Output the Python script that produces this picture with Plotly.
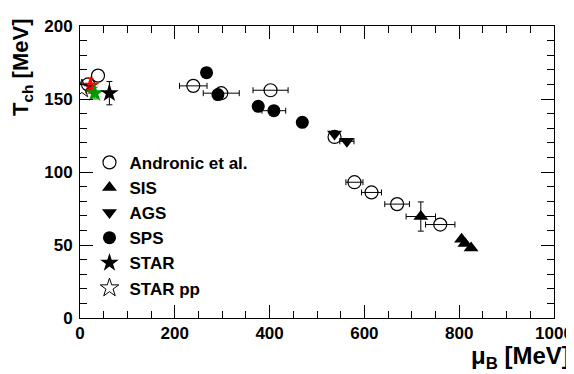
import plotly.graph_objects as go

# ---- data (mu_B [MeV], T_ch [MeV]) ----
andronic_mu = [38, 17, 239, 298, 402, 537, 579, 615, 669, 760]
andronic_T = [166, 160, 159, 154, 156, 124, 93, 86, 78, 64]
andronic_dmu = [None, None, 29, 38, 37, None, 18, 21, 26, 31]

sis_mu = [719, 805, 812, 825]
sis_T = [69.5, 54, 51, 48]
sis_dmu = [31, None, None, None]
sis_dT = [10, None, None, None]

ags_mu = [537, 563]
ags_T = [126, 121]
ags_dmu = [None, 15]

sps_mu = [267, 291, 376, 409, 469]
sps_T = [168, 153, 145, 142, 134]
sps_dmu = [None, None, None, 25, None]

star_mu = [62]
star_T = [154]
star_dT = [8]

starpp_mu = [4]
starpp_T = [157]

red_mu = [22]
red_T = [159]
red_dT = [5]

green_mu = [31]
green_T = [154]
green_dT = [4]

x_ticks = [0, 200, 400, 600, 800, 1000]
y_ticks = [0, 50, 100, 150, 200]

FONT = "Liberation Sans"
BLACK = "#000000"

fig = go.Figure()


def err(arr):
    return dict(type="data", array=arr, symmetric=True, color=BLACK,
                thickness=1, width=3, visible=True)


def add_set(name, grp, xs, ys, marker, dx=None, dy=None):
    n = len(xs)
    dx = dx or [None] * n
    dy = dy or [None] * n
    with_err = [i for i in range(n) if dx[i] is not None or dy[i] is not None]
    no_err = [i for i in range(n) if i not in with_err]
    first = True
    if no_err:
        fig.add_trace(go.Scatter(
            x=[xs[i] for i in no_err], y=[ys[i] for i in no_err], mode="markers",
            name=name, legendgroup=grp, showlegend=first, marker=marker))
        first = False
    if with_err:
        kw = {}
        if any(dx[i] is not None for i in with_err):
            kw["error_x"] = err([dx[i] or 0 for i in with_err])
        if any(dy[i] is not None for i in with_err):
            kw["error_y"] = err([dy[i] or 0 for i in with_err])
        fig.add_trace(go.Scatter(
            x=[xs[i] for i in with_err], y=[ys[i] for i in with_err], mode="markers",
            name=name, legendgroup=grp, showlegend=first, marker=marker, **kw))


add_set("Andronic et al.", "a", andronic_mu, andronic_T,
        dict(symbol="circle-open", size=13, color=BLACK, line=dict(width=1.2)),
        dx=andronic_dmu)
add_set("SIS", "b", sis_mu, sis_T,
        dict(symbol="triangle-up", size=13, color=BLACK), dx=sis_dmu, dy=sis_dT)
add_set("AGS", "c", ags_mu, ags_T,
        dict(symbol="triangle-down", size=13, color=BLACK), dx=ags_dmu)
add_set("SPS", "d", sps_mu, sps_T,
        dict(symbol="circle", size=13, color=BLACK), dx=sps_dmu)

fig.add_trace(go.Scatter(
    x=red_mu, y=red_T, mode="markers", showlegend=False,
    marker=dict(symbol="star", size=14, color="#ff0000"),
    error_y=dict(type="data", array=red_dT, color="#ff0000", thickness=1, width=3)))
fig.add_trace(go.Scatter(
    x=green_mu, y=green_T, mode="markers", showlegend=False,
    marker=dict(symbol="star", size=14, color="#009900"),
    error_y=dict(type="data", array=green_dT, color="#009900", thickness=1, width=3)))

add_set("STAR", "e", star_mu, star_T,
        dict(symbol="star", size=14, color=BLACK), dy=star_dT)
add_set("STAR pp", "f", starpp_mu, starpp_T,
        dict(symbol="star-open", size=14, color=BLACK, line=dict(width=1)))

axis_common = dict(
    showgrid=False, zeroline=False, showline=True, linecolor=BLACK, linewidth=1,
    mirror="allticks", ticks="inside", ticklen=13, tickcolor=BLACK, tickwidth=1,
    ticklabeloverflow="allow",
    tickfont=dict(family=FONT, size=17, color=BLACK),
)

fig.update_xaxes(range=[0, 1000], tickmode="array", tickvals=x_ticks,
                 ticktext=["<b>%d</b>" % v for v in x_ticks],
                 minor=dict(dtick=50, ticks="inside", ticklen=7, tickcolor=BLACK, tickwidth=1),
                 **axis_common)
fig.update_yaxes(range=[0, 200], tickmode="array", tickvals=y_ticks,
                 ticktext=["<b>%d</b>" % v for v in y_ticks],
                 ticklabelstandoff=3,
                 minor=dict(dtick=10, ticks="inside", ticklen=7, tickcolor=BLACK, tickwidth=1),
                 **axis_common)

fig.add_annotation(text="<b>μ<sub>B</sub> [MeV]</b>", xref="paper", yref="paper",
                   x=1.0375, y=-0.135, xanchor="right", yanchor="middle", showarrow=False,
                   font=dict(family=FONT, size=24, color=BLACK))
fig.add_annotation(text="<b>T<sub>ch</sub> [MeV]</b>", xref="paper", yref="paper",
                   x=-0.122, y=1.03, xanchor="center", yanchor="top", textangle=-90,
                   showarrow=False,
                   font=dict(family=FONT, size=22, color=BLACK))

fig.update_layout(
    width=574, height=374,
    margin=dict(l=72, r=22, t=9, b=64),
    paper_bgcolor="white", plot_bgcolor="white",
    showlegend=True,
    legend=dict(x=0.02, y=0.593, xanchor="left", yanchor="top",
                bgcolor="rgba(0,0,0,0)", borderwidth=0,
                traceorder="grouped", tracegroupgap=0,
                font=dict(family=FONT, size=17, color=BLACK, weight="bold")),
)

fig.write_html("out.html")
